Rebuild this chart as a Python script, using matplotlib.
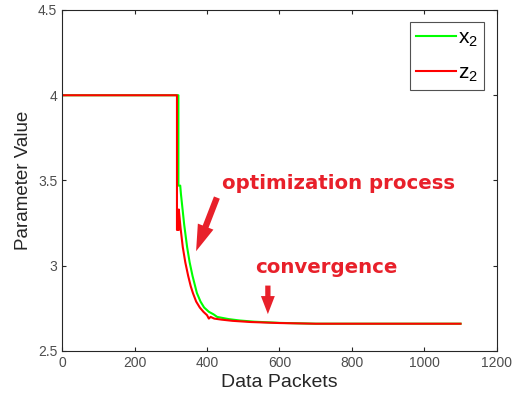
import matplotlib.pyplot as plt
from matplotlib.ticker import FormatStrFormatter

plt.rcParams['font.family'] = ['Liberation Sans', 'DejaVu Sans']
plt.rcParams['mathtext.fontset'] = 'custom'
plt.rcParams['mathtext.rm'] = 'Liberation Sans'
plt.rcParams['mathtext.it'] = 'Liberation Sans'

# parameter estimates vs. received data packets
x2_packets = [0, 321, 321, 326, 328, 337, 345, 352, 360, 372, 382, 392, 405, 418, 428,
              440, 460, 490, 530, 600, 700, 800, 1100]
x2_values = [4.0, 4.0, 3.47, 3.47, 3.42, 3.24, 3.11, 3.02, 2.94, 2.84, 2.79, 2.755, 2.73,
             2.715, 2.70, 2.695, 2.687, 2.679, 2.672, 2.665, 2.66, 2.66, 2.66]

z2_packets = [0, 317, 317, 322, 322, 327, 333, 340, 348, 355, 361, 370, 380, 390, 400,
              405, 410, 420, 440, 470, 520, 600, 700, 800, 1100]
z2_values = [4.0, 4.0, 3.21, 3.21, 3.33, 3.22, 3.11, 3.02, 2.94, 2.88, 2.84, 2.79, 2.755,
             2.73, 2.71, 2.69, 2.70, 2.69, 2.684, 2.677, 2.67, 2.664, 2.66, 2.66, 2.66]

ann_red = '#e8202a'
ink = '#262626'

fig = plt.figure(figsize=(5.18, 4.0), dpi=100)
ax = fig.add_axes([0.12, 0.1225, 0.839, 0.8525])

ax.plot(x2_packets, x2_values, color='#00ff00', lw=1.5, label='x$_2$')
ax.plot(z2_packets, z2_values, color='#ff0000', lw=1.5, label='z$_2$')

ax.set_xlim(0, 1200)
ax.set_ylim(2.5, 4.5)
ax.set_xticks(range(0, 1201, 200))
ax.set_yticks([2.5, 3, 3.5, 4, 4.5])
ax.yaxis.set_major_formatter(FormatStrFormatter('%g'))
ax.tick_params(direction='in', top=True, right=True, labelsize=10, colors=ink,
               labelcolor='#4d4d4d', length=3)
for s in ax.spines.values():
    s.set_color(ink)
    s.set_linewidth(0.8)

ax.set_xlabel('Data Packets', fontsize=14, color=ink, labelpad=3)
ax.set_ylabel('Parameter Value', fontsize=13.5, color=ink, labelpad=4)

leg = ax.legend(loc='upper right', fontsize=15, frameon=True, fancybox=False,
                edgecolor=ink, handlelength=1.9, borderaxespad=0.6,
                labelspacing=0.7, handletextpad=0.1, borderpad=0.3)
leg.get_frame().set_linewidth(0.8)

# annotations
ax.text(441, 3.485, 'optimization process', color=ann_red, fontsize=14.2,
        fontweight='bold', family='DejaVu Sans', va='center', ha='left')
ax.annotate('', xy=(367, 3.07), xytext=(430, 3.415),
            arrowprops=dict(arrowstyle='simple,head_length=1.9,head_width=1.2,tail_width=0.45',
                            color=ann_red, lw=0))
ax.text(532, 2.99, 'convergence', color=ann_red, fontsize=14.2,
        fontweight='bold', family='DejaVu Sans', va='center', ha='left')
ax.annotate('', xy=(568, 2.70), xytext=(568, 2.90),
            arrowprops=dict(arrowstyle='simple,head_length=1.3,head_width=1.0,tail_width=0.38',
                            color=ann_red, lw=0))

plt.savefig('out.png')
